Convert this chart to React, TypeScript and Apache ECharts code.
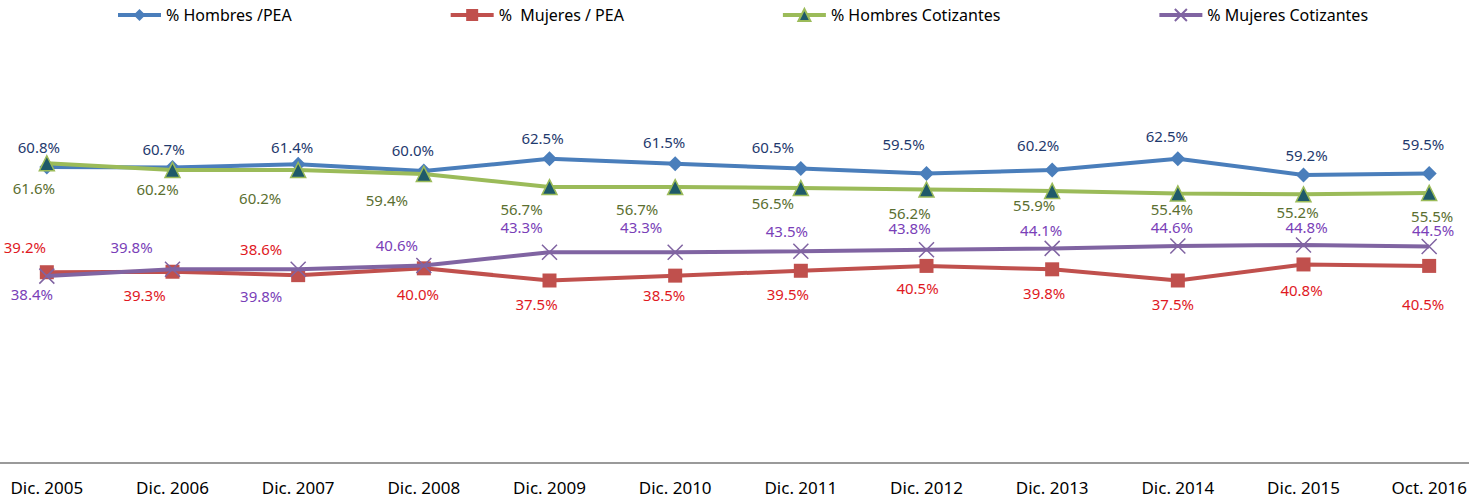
import React, { useEffect, useRef } from "react";
import * as echarts from "echarts";

const categories = [
  "Dic. 2005", "Dic. 2006", "Dic. 2007", "Dic. 2008", "Dic. 2009", "Dic. 2010",
  "Dic. 2011", "Dic. 2012", "Dic. 2013", "Dic. 2014", "Dic. 2015", "Oct. 2016",
];
const hombresPEA = [60.8, 60.7, 61.4, 60.0, 62.5, 61.5, 60.5, 59.5, 60.2, 62.5, 59.2, 59.5];
const mujeresPEA = [39.2, 39.3, 38.6, 40.0, 37.5, 38.5, 39.5, 40.5, 39.8, 37.5, 40.8, 40.5];
const hombresCot = [61.6, 60.2, 60.2, 59.4, 56.7, 56.7, 56.5, 56.2, 55.9, 55.4, 55.2, 55.5];
const mujeresCot = [38.4, 39.8, 39.8, 40.6, 43.3, 43.3, 43.5, 43.8, 44.1, 44.6, 44.8, 44.5];

// label placement (style only): [dx, dy] from each marker
const offHombresPEA = [[-8, -20], [-9, -19], [-6, -17], [-11, -21], [-7, -21], [-11, -22], [-28, -22], [-23, -29], [-14, -25], [-11, -23], [3, -20], [-6, -29]];
const offMujeresPEA = [[-22, -25], [-28, 23], [-37, -26], [-6, 26], [-13, 23], [-11, 19], [-13, 23], [-9, 22], [-8, 24], [-5, 23], [-2, 26], [-6, 38]];
const offHombresCot = [[-13, 25], [-15, 19], [-38, 28], [-37, 26], [-28, 22], [-38, 22], [-28, 15], [-17, 24], [-18, 14], [-6, 16], [-6, 18], [3, 23]];
const offMujeresCot = [[-15, 18], [-41, -22], [-37, 27], [-27, -20], [-28, -25], [-34, -25], [-14, -20], [-17, -22], [-11, -18], [-6, -19], [3, -18], [4, -16]];

const FONT = "Noto Sans";

function makeData(values: number[], offsets: number[][]) {
  return values.map((v, i) => ({
    value: v,
    label: { offset: offsets[i] },
  }));
}

export default function App() {
  const ref = useRef<HTMLDivElement>(null);
  useEffect(() => {
    if (!ref.current) return;
    const chart = echarts.init(ref.current, null, { renderer: "svg" });
    const labelBase = (color: string) => ({
      show: true,
      position: "inside",
      align: "center",
      verticalAlign: "middle",
      color,
      fontFamily: FONT,
      fontSize: 15,
      formatter: (p: any) => Number(p.value).toFixed(1) + "%",
    });
    chart.setOption({
      animation: false,
      backgroundColor: "#ffffff",
      legend: {
        top: 2,
        left: 127,
        itemGap: 157,
        itemWidth: 43,
        itemHeight: 15,
        lineStyle: { width: 4 },
        textStyle: { fontFamily: FONT, fontSize: 16, color: "#000" },
        data: ["% Hombres /PEA", "%  Mujeres / PEA", "% Hombres Cotizantes", "% Mujeres Cotizantes"],
      },
      grid: { left: 0, right: 0, top: 25, bottom: 35, containLabel: false },
      xAxis: {
        type: "category",
        data: categories,
        boundaryGap: true,
        axisLine: { show: true, lineStyle: { color: "#9a9a9a", width: 2 } },
        axisTick: { show: false },
        axisLabel: { color: "#000", fontFamily: FONT, fontSize: 17, margin: 16, interval: 0 },
      },
      yAxis: {
        type: "value",
        min: 0,
        max: 90,
        show: false,
        splitLine: { show: false },
      },
      series: [
        {
          name: "% Hombres /PEA",
          type: "line",
          data: makeData(hombresPEA, offHombresPEA),
          symbol: "diamond",
          symbolSize: 15,
          lineStyle: { color: "#4a7ebb", width: 4 },
          itemStyle: { color: "#4a7ebb" },
          label: labelBase("#1f3a6e"),
          z: 2,
        },
        {
          name: "%  Mujeres / PEA",
          type: "line",
          data: makeData(mujeresPEA, offMujeresPEA),
          symbol: "rect",
          symbolSize: 14,
          lineStyle: { color: "#c0504d", width: 4 },
          itemStyle: { color: "#c0504d" },
          label: labelBase("#e0191f"),
          z: 3,
        },
        {
          name: "% Hombres Cotizantes",
          type: "line",
          data: makeData(hombresCot, offHombresCot),
          symbol: "triangle",
          symbolSize: 15,
          lineStyle: { color: "#9bbb59", width: 4 },
          itemStyle: { color: "#1f5a6a", borderColor: "#9bbb59", borderWidth: 1.5 },
          label: labelBase("#5b6f31"),
          z: 4,
        },
        {
          name: "% Mujeres Cotizantes",
          type: "line",
          data: makeData(mujeresCot, offMujeresCot),
          symbol: "path://M0,0L10,10M10,0L0,10",
          symbolSize: 15,
          lineStyle: { color: "#8064a2", width: 4 },
          itemStyle: { color: "#8064a2", borderColor: "#8064a2", borderWidth: 1.5 },
          label: labelBase("#7a3fb8"),
          z: 5,
        },
      ],
    });
    return () => chart.dispose();
  }, []);
  return (
    <div
      ref={ref}
      style={{ position: "fixed", left: -16, top: 0, width: 1508, height: 498 }}
    />
  );
}
